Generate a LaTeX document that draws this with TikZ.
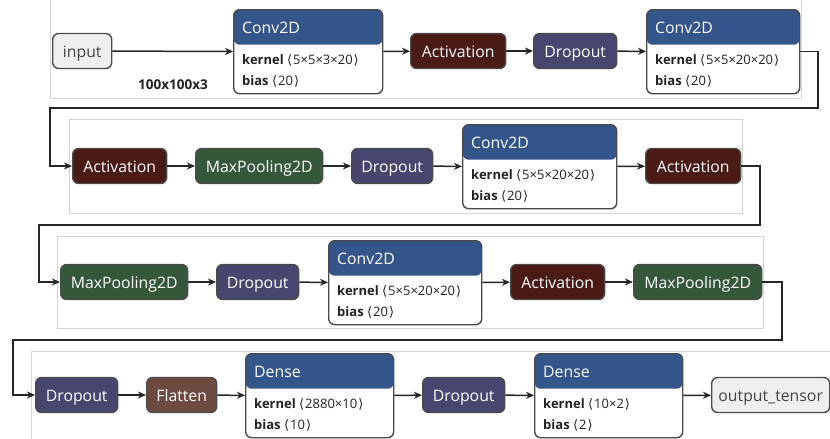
\documentclass[tikz,border=0pt]{standalone}
\usepackage{fontspec}
\setmainfont{Open Sans}
\newfontfamily\symf{DejaVu Sans}
\usetikzlibrary{arrows.meta,calc}
\definecolor{hdrc}{HTML}{34558A}
\definecolor{actc}{HTML}{4A1B15}
\definecolor{dropc}{HTML}{46466F}
\definecolor{poolc}{HTML}{36583A}
\definecolor{flatc}{HTML}{6C4A3F}
\definecolor{iofill}{HTML}{EFEFEF}
\definecolor{bordc}{HTML}{4A4A4A}
\definecolor{panelc}{HTML}{D4D4D4}
\definecolor{txtc}{HTML}{222222}
\newcommand\kv[2]{\textbf{#1} {\symf ⟨}\kern1pt#2\kern1pt{\symf ⟩}}
\tikzset{
  blk/.style={draw=bordc, line width=1.4pt, rounded corners=6pt, minimum height=35pt,
    inner sep=0pt, text height=13pt, text depth=0pt, text=white,
    font=\fontsize{15.8}{18}\selectfont, anchor=west},
  actbox/.style={blk, fill=actc},
  dropbox/.style={blk, fill=dropc},
  poolbox/.style={blk, fill=poolc},
  flatbox/.style={blk, fill=flatc},
  iobox/.style={blk, fill=iofill, text=txtc!85},
  lyrbox/.style={draw=bordc, line width=1.4pt, rounded corners=6pt, fill=white,
    minimum height=84pt, inner sep=0pt, anchor=north west,
    path picture={\fill[hdrc] (path picture bounding box.north west) rectangle ([yshift=-35pt]path picture bounding box.north east);}},
  hdrtext/.style={anchor=base west, inner sep=0pt, text=white, font=\fontsize{15.8}{18}\selectfont},
  bodytext/.style={anchor=base west, inner sep=0pt, text=txtc, font=\fontsize{13}{15}\selectfont},
  panel/.style={draw=panelc, line width=0.9pt},
  conn/.style={draw=black!85, line width=1.5pt, -{Stealth[length=8pt,width=7pt,inset=2.5pt]}},
}
\newcommand\lyr[7]{%
  \node[lyrbox, minimum width=#4pt] (#1) at (#2,#3) {};
  \node[hdrtext] (#1h) at ([xshift=9pt,yshift=-24.5pt]#1.north west) {#5};
  \node[bodytext] (#1k) at ([xshift=9pt,yshift=-55.5pt]#1.north west) {\kv{kernel}{#6}};
  \node[bodytext] (#1b) at ([xshift=9pt,yshift=-76pt]#1.north west) {\kv{bias}{#7}};
}
\begin{document}
\begin{tikzpicture}[x=1pt,y=-1pt]
\useasboundingbox[fill=white] (0,0) rectangle (830,439);
% panels
\draw[panel] (50,-2) rectangle (801,98);
\draw[panel] (69,119) rectangle (742,213);
\draw[panel] (57,236) rectangle (763,328);
\draw[panel] (31,351) rectangle (840,450);
% row 1
\node[iobox, minimum width=59pt] (in) at (52,51) {input};
\lyr{c1}{233}{9}{149}{Conv2D}{5×5×3×20}{20}
\node[actbox, minimum width=95pt] (a1) at (410,51) {Activation};
\node[dropbox, minimum width=83pt] (d1) at (533,51) {Dropout};
\lyr{c2}{646}{9}{153}{Conv2D}{5×5×20×20}{20}
\node[anchor=base, inner sep=0pt, text=txtc, font=\fontsize{13.5}{15}\selectfont\bfseries] (shp) at (173,89) {100x100x3};
% row 2
\node[actbox, minimum width=94pt] (a2) at (72,166) {Activation};
\node[poolbox, minimum width=127pt] (m1) at (195,166) {MaxPooling2D};
\node[dropbox, minimum width=81pt] (d2) at (351,166) {Dropout};
\lyr{c3}{462}{124}{154}{Conv2D}{5×5×20×20}{20}
\node[actbox, minimum width=95pt] (a3) at (645,166) {Activation};
% row 3
\node[poolbox, minimum width=127pt] (m2) at (60,282) {MaxPooling2D};
\node[dropbox, minimum width=82pt] (d3) at (216,282) {Dropout};
\lyr{c4}{328}{240}{153}{Conv2D}{5×5×20×20}{20}
\node[actbox, minimum width=94pt] (a4) at (510,282) {Activation};
\node[poolbox, minimum width=128pt] (m3) at (633,282) {MaxPooling2D};
% row 4
\node[dropbox, minimum width=82pt] (d4) at (35,395) {Dropout};
\node[flatbox, minimum width=70pt] (f1) at (146,395) {Flatten};
\lyr{e1}{245}{353}{148}{Dense}{2880×10}{10}
\node[dropbox, minimum width=82pt] (d5) at (422,395) {Dropout};
\lyr{e2}{534}{353}{148}{Dense}{10×2}{2}
\node[iobox, minimum width=118pt] (out) at (711,395) {output\_tensor};
% waypoints
\coordinate (w1) at (818,108);
\coordinate (w2) at (50,166);
\coordinate (w3) at (760,225);
\coordinate (w4) at (39,282);
\coordinate (w5) at (782,340);
\coordinate (w6) at (13,395);
% connectors
\draw[conn] (in) -- (c1);
\draw[conn] (c1) -- (a1);
\draw[conn] (a1) -- (d1);
\draw[conn] (d1) -- (c2);
\draw[conn] (c2.east) -| (w1) -| (w2) -- (a2.west);
\draw[conn] (a2) -- (m1);
\draw[conn] (m1) -- (d2);
\draw[conn] (d2) -- (c3);
\draw[conn] (c3) -- (a3);
\draw[conn] (a3.east) -| (w3) -| (w4) -- (m2.west);
\draw[conn] (m2) -- (d3);
\draw[conn] (d3) -- (c4);
\draw[conn] (c4) -- (a4);
\draw[conn] (a4) -- (m3);
\draw[conn] (m3.east) -| (w5) -| (w6) -- (d4.west);
\draw[conn] (d4) -- (f1);
\draw[conn] (f1) -- (e1);
\draw[conn] (e1) -- (d5);
\draw[conn] (d5) -- (e2);
\draw[conn] (e2) -- (out);
\end{tikzpicture}
\end{document}
